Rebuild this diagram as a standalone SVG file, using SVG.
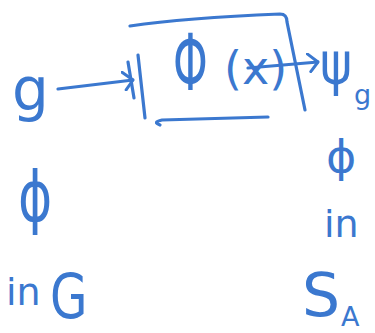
<svg xmlns="http://www.w3.org/2000/svg" width="375" height="333" viewBox="0 0 375 333">
<style>
.ink{fill:none;stroke:#3b78cf;stroke-width:3.2;stroke-linecap:round;stroke-linejoin:round}
.t{fill:#3b78cf;font-family:"DejaVu Sans","Noto Sans",sans-serif}
</style>
<defs>
<marker id="ah" viewBox="0 0 12 20" refX="11" refY="10" markerWidth="12" markerHeight="20" markerUnits="userSpaceOnUse" orient="auto">
<path d="M1,1 L11,10 L3,19" fill="none" stroke="#3b78cf" stroke-width="3" stroke-linecap="round" stroke-linejoin="round"/>
</marker>
</defs>
<rect width="375" height="333" fill="#ffffff"/>
<g id="node-g">
<text class="t" x="12" y="110" font-size="58">g</text>
</g>
<g id="node-map">
<path class="ink" d="M130,26 C170,20 230,16 280,14 Q287,14 287,22 L305,110"/>
<path class="ink" d="M138,55 L145,118"/>
<path class="ink" d="M160,125 Q152,122 162,120 L268,117"/>
<path class="ink" d="M128,62 L134,98"/>
<text class="t" transform="translate(173,90) scale(0.85,1.5)" font-size="52">Φ</text>
<text class="t" x="224" y="84" font-size="46">(x)</text>
</g>
<g id="node-psi">
<text class="t" transform="translate(320,84) scale(0.9,1.1)" font-size="54">ψ</text>
<text class="t" x="354" y="104" font-size="27">g</text>
</g>
<g id="node-inG">
<text class="t" transform="translate(18,221) scale(1,1.35)" font-size="52">ϕ</text>
<text class="t" x="6" y="305" font-size="38">in</text>
<text class="t" transform="translate(50,318) scale(0.78,1)" font-size="62">G</text>
</g>
<g id="node-inSA">
<text class="t" transform="translate(326,172) scale(1,0.95)" font-size="46">ϕ</text>
<text class="t" x="324" y="237" font-size="38">in</text>
<text class="t" x="302" y="316" font-size="60">S</text>
<text class="t" x="341" y="326" font-size="27">A</text>
</g>
<g id="connectors">
<path class="ink" d="M58,89 L133,80" marker-end="url(#ah)"/>
<path class="ink" d="M248,68 L318,62" marker-end="url(#ah)"/>
</g>
</svg>
